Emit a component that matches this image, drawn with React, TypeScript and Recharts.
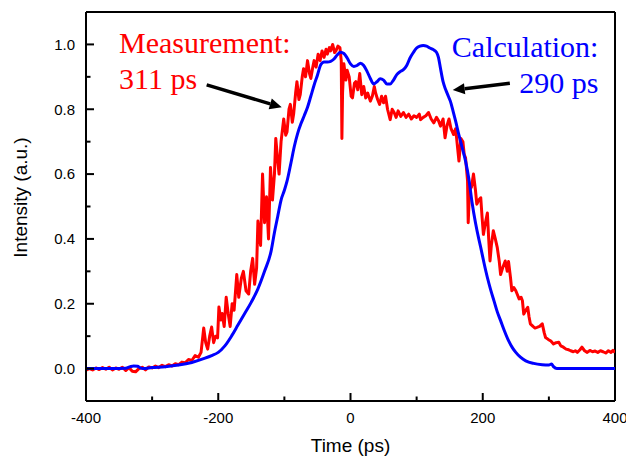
import { LineChart, Line, XAxis, YAxis, ReferenceLine, ReferenceDot } from 'recharts'

// measured pulse (red)
const measTime = [
  -400, -395, -390, -385, -380, -375, -370, -365, -360, -355, -350, -345, -340, -335, -330, -325, -320, -315, -310, -305,
  -300, -295, -290, -285, -280, -275, -270, -265, -260, -255, -250, -245, -240, -235, -230, -226, -222, -219, -216, -213,
  -210, -207, -204, -201, -199, -196, -194, -191, -188, -185, -182, -179, -176, -172, -169, -165, -162, -158, -154, -151,
  -148, -145, -142, -140, -136, -133, -130, -127, -124, -121, -118, -115, -113, -110, -108, -105, -101, -98, -96, -93,
  -91, -88, -86, -83, -81, -78, -76, -73, -71, -68, -65, -62, -60, -57, -55, -52, -49, -46, -43, -40,
  -37, -35, -32, -30, -27, -24, -22, -19, -16, -14, -13, -12, -10, -7, -5, -2, 1, 3, 6, 8,
  11, 14, 17, 20, 23, 26, 30, 33, 36, 38, 41, 44, 47, 50, 53, 56, 60, 63, 66, 69,
  72, 76, 80, 84, 88, 92, 96, 100, 104, 106, 110, 114, 118, 122, 126, 130, 133, 136, 140, 143,
  146, 149, 152, 156, 159, 162, 164, 167, 170, 172, 174, 177, 178, 180, 183, 186, 189, 191, 194, 197,
  199, 201, 204, 207, 209, 211, 213, 216, 219, 222, 225, 227, 230, 234, 237, 239, 242, 244, 247, 250,
  252, 255, 258, 260, 262, 265, 268, 270, 272, 276, 279, 282, 286, 290, 293, 295, 299, 303, 307, 311,
  315, 318, 322, 326, 330, 333, 337, 340, 343, 347, 350, 354, 358, 362, 366, 370, 374, 378, 382, 386,
  390, 394, 397, 400,
]
const measIntensity = [
  -0.005, 0.0, -0.004, 0.002, -0.003, 0.003, -0.002, 0.004, -0.004, 0.002, -0.002, 0.004, -0.006, 0.003, -0.008, -0.01, 0.0, 0.004, -0.004, 0.005,
  0.002, 0.008, 0.003, 0.01, 0.006, 0.012, 0.008, 0.015, 0.012, 0.02, 0.018, 0.028, 0.025, 0.04, 0.035, 0.05, 0.125, 0.08, 0.06, 0.1,
  0.128, 0.08, 0.1, 0.095, 0.19, 0.15, 0.17, 0.13, 0.22, 0.17, 0.13, 0.2, 0.18, 0.29, 0.22, 0.28, 0.3, 0.24, 0.23, 0.3,
  0.34, 0.26, 0.31, 0.455, 0.38, 0.6, 0.45, 0.53, 0.4, 0.62, 0.52, 0.6, 0.71, 0.64, 0.6, 0.7, 0.77, 0.72, 0.73, 0.8,
  0.815, 0.76, 0.785, 0.85, 0.885, 0.83, 0.845, 0.9, 0.925, 0.9, 0.95, 0.91, 0.895, 0.93, 0.95, 0.93, 0.97, 0.95, 0.98, 0.96,
  0.985, 0.97, 0.99, 0.98, 1.0, 0.975, 0.98, 0.995, 0.99, 0.95, 0.71, 0.85, 0.94, 0.89, 0.92, 0.9, 0.84, 0.835, 0.88, 0.885,
  0.86, 0.91, 0.845, 0.87, 0.835, 0.85, 0.825, 0.84, 0.87, 0.85, 0.83, 0.815, 0.84, 0.82, 0.84, 0.8, 0.768, 0.8, 0.79, 0.775,
  0.795, 0.778, 0.79, 0.775, 0.785, 0.77, 0.78, 0.775, 0.785, 0.768, 0.775, 0.78, 0.79, 0.77, 0.758, 0.775, 0.765, 0.748, 0.77, 0.712,
  0.75, 0.77, 0.74, 0.722, 0.74, 0.68, 0.64, 0.71, 0.7, 0.66, 0.65, 0.58, 0.45, 0.55, 0.56, 0.6, 0.55, 0.507, 0.52, 0.527,
  0.466, 0.414, 0.45, 0.48, 0.4, 0.332, 0.38, 0.425, 0.4, 0.373, 0.33, 0.29, 0.31, 0.332, 0.3, 0.33, 0.28, 0.24, 0.25, 0.24,
  0.23, 0.215, 0.22, 0.209, 0.168, 0.18, 0.189, 0.16, 0.138, 0.13, 0.125, 0.127, 0.13, 0.138, 0.11, 0.096, 0.09, 0.085, 0.076, 0.08,
  0.081, 0.07, 0.066, 0.06, 0.058, 0.055, 0.052, 0.055, 0.05, 0.058, 0.066, 0.055, 0.05, 0.056, 0.052, 0.054, 0.05, 0.055, 0.052, 0.048,
  0.055, 0.05, 0.056, 0.05,
]

// calculated pulse (blue)
const calcTime = [
  -400, -360, -340, -333, -328, -322, -318, -314, -300, -280, -260, -240, -220, -210, -200, -190, -180, -170, -160, -150,
  -140, -130, -120, -115, -110, -105, -100, -96, -90, -85, -80, -75, -70, -65, -60, -55, -50, -45, -40, -35,
  -30, -25, -20, -15, -10, -5, 0, 5, 10, 15, 20, 25, 30, 35, 40, 45, 50, 55, 60, 65,
  70, 75, 80, 85, 90, 95, 100, 105, 110, 115, 120, 125, 130, 133, 136, 140, 144, 148, 151, 155,
  159, 164, 169, 174, 179, 184, 189, 194, 197, 202, 207, 212, 217, 222, 227, 233, 239, 245, 250, 257,
  265, 277, 290, 300, 304, 307, 312, 330, 400,
]
const calcIntensity = [
  0, 0, 0.001, 0.006, 0.008, 0.007, 0.002, 0.0, 0.003, 0.006, 0.011, 0.019, 0.032, 0.04, 0.05, 0.07, 0.1, 0.135, 0.17, 0.205,
  0.246, 0.3, 0.363, 0.42, 0.47, 0.52, 0.55, 0.578, 0.635, 0.685, 0.725, 0.755, 0.78, 0.806, 0.84, 0.875, 0.905, 0.937, 0.946, 0.946,
  0.948, 0.955, 0.968, 0.976, 0.972, 0.958, 0.94, 0.932, 0.935, 0.942, 0.935, 0.917, 0.895, 0.878, 0.885, 0.894, 0.89, 0.878, 0.878, 0.89,
  0.907, 0.916, 0.922, 0.935, 0.958, 0.975, 0.989, 0.995, 0.997, 0.995, 0.989, 0.984, 0.976, 0.96, 0.927, 0.885, 0.86, 0.84, 0.825, 0.795,
  0.763, 0.72, 0.681, 0.64, 0.585, 0.51, 0.45, 0.4, 0.373, 0.325, 0.281, 0.243, 0.209, 0.175, 0.148, 0.115, 0.086, 0.064, 0.05, 0.035,
  0.024, 0.016, 0.012, 0.011, 0.014, 0.006, 0.0, 0, 0,
]

const xTicks = [-400, -300, -200, -100, 0, 100, 200, 300, 400]
const yTicks = [0, 0.1, 0.2, 0.3, 0.4, 0.5, 0.6, 0.7, 0.8, 0.9, 1.0]

const measData = measTime.map((t, i) => ({ t, v: measIntensity[i] }))
const calcData = calcTime.map((t, i) => ({ t, v: calcIntensity[i] }))

const SANS = '"Liberation Sans", Arial, sans-serif'
const SERIF = '"Liberation Serif", "Times New Roman", serif'

const XTick = ({ x, y, payload }: any) => {
  const major = payload.value % 200 === 0
  return (
    <g>
      <line x1={x} x2={x} y1={y} y2={y - (major ? 8 : 4.5)} stroke="#000" strokeWidth={2} />
      {major && (
        <text x={x} y={y + 22} textAnchor="middle" fontSize={15} fontFamily={SANS} fill="#000">
          {payload.value}
        </text>
      )}
    </g>
  )
}

const YTick = ({ x, y, payload }: any) => {
  const major = Math.round(payload.value * 10) % 2 === 0
  return (
    <g>
      <line x1={x} x2={x + (major ? 8 : 4.5)} y1={y} y2={y} stroke="#000" strokeWidth={2} />
      {major && (
        <text x={x - 11} y={y} dy="0.36em" textAnchor="end" fontSize={15} fontFamily={SANS} fill="#000">
          {payload.value.toFixed(1)}
        </text>
      )}
    </g>
  )
}

const Arrow = (p: any) => {
  const { x1, y1, x2, y2 } = p
  const dx = x2 - x1
  const dy = y2 - y1
  const len = Math.hypot(dx, dy)
  const ux = dx / len
  const uy = dy / len
  const bx = x2 - ux * 12
  const by = y2 - uy * 12
  return (
    <g>
      <line x1={x1} y1={y1} x2={bx} y2={by} stroke="#000" strokeWidth={3.5} />
      <polygon points={`${x2},${y2} ${bx - uy * 5.5},${by + ux * 5.5} ${bx + uy * 5.5},${by - ux * 5.5}`} fill="#000" />
    </g>
  )
}

const note = (text: string, color: string, anchor: 'start' | 'end') => (p: any) => (
  <text x={p.cx} y={p.cy} fill={color} fontSize={30} fontFamily={SERIF} textAnchor={anchor}>
    {text}
  </text>
)

export default function App() {
  return (
    <div style={{ position: 'absolute', left: 0, top: 0, background: '#fff' }}>
      <LineChart width={626} height={457} margin={{ top: 12, right: 11, left: 0, bottom: 0 }}>
        <XAxis
          type="number"
          dataKey="t"
          domain={[-400, 400]}
          ticks={xTicks}
          interval={0}
          allowDataOverflow
          height={56}
          tickLine={false}
          tickSize={0}
          tickMargin={0}
          tick={<XTick />}
          axisLine={{ stroke: '#000', strokeWidth: 2 }}
          label={{
            content: ({ viewBox }: any) => (
              <text x={viewBox.x + viewBox.width / 2} y={viewBox.y + 51} textAnchor="middle" fontSize={19} fontFamily={SANS} fill="#000">
                Time (ps)
              </text>
            ),
          }}
        />
        <YAxis
          type="number"
          dataKey="v"
          domain={[-0.1, 1.1]}
          ticks={yTicks}
          interval={0}
          allowDataOverflow
          width={86}
          tickLine={false}
          tickSize={0}
          tickMargin={0}
          tick={<YTick />}
          axisLine={{ stroke: '#000', strokeWidth: 2 }}
          label={{
            content: ({ viewBox }: any) => {
              const cy = viewBox.y + viewBox.height / 2 - 9
              return (
                <text x={27} y={cy} transform={`rotate(-90, 27, ${cy})`} textAnchor="middle" fontSize={19} fontFamily={SANS} fill="#000">
                  Intensity (a.u.)
                </text>
              )
            },
          }}
        />
        <ReferenceLine y={1.1} stroke="#000" strokeWidth={2} />
        <ReferenceLine x={400} stroke="#000" strokeWidth={2} />
        <Line data={measData} dataKey="v" type="linear" stroke="#ff0000" strokeWidth={3} strokeLinejoin="round" dot={false} isAnimationActive={false} />
        <Line data={calcData} dataKey="v" type="monotone" stroke="#0000ff" strokeWidth={3} dot={false} isAnimationActive={false} />
        <ReferenceLine segment={[{ x: -217.5, y: 0.875 }, { x: -104, y: 0.806 }]} shape={Arrow} />
        <ReferenceLine segment={[{ x: 241, y: 0.88 }, { x: 154.6, y: 0.859 }]} shape={Arrow} />
        <ReferenceDot x={-350} y={0.974} r={0} shape={note('Measurement:', '#ff0000', 'start')} />
        <ReferenceDot x={-350} y={0.862} r={0} shape={note('311 ps', '#ff0000', 'start')} />
        <ReferenceDot x={375} y={0.962} r={0} shape={note('Calculation:', '#0000ff', 'end')} />
        <ReferenceDot x={375} y={0.851} r={0} shape={note('290 ps', '#0000ff', 'end')} />
      </LineChart>
    </div>
  )
}
